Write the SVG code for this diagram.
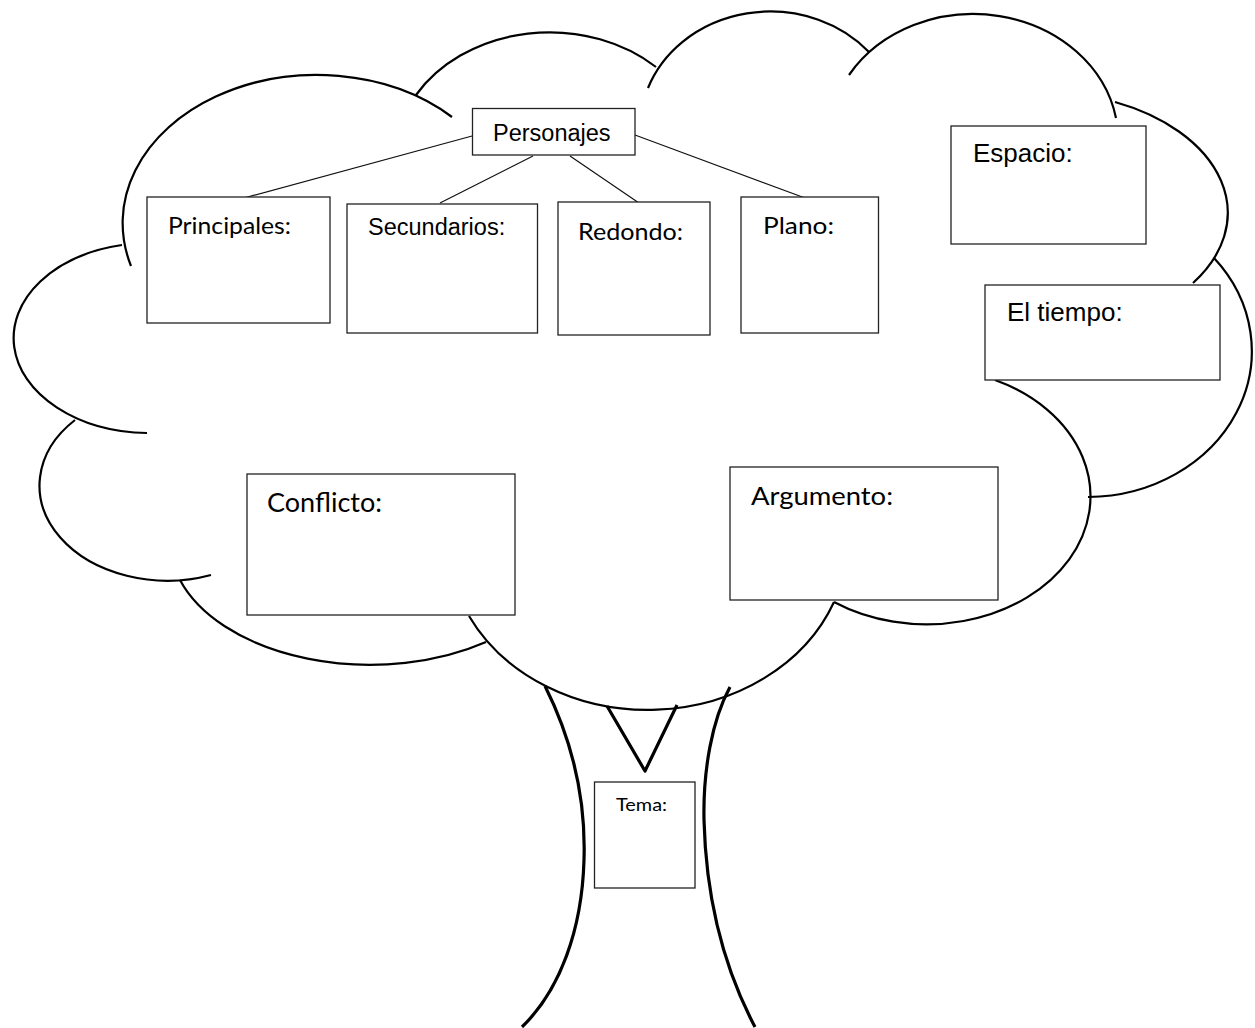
<svg xmlns="http://www.w3.org/2000/svg" width="1255" height="1028" viewBox="0 0 1255 1028">
<style>
.cl{fill:none;stroke:#000;stroke-width:2.2;stroke-linecap:butt}
.tr{fill:none;stroke:#000;stroke-width:3.2}
.bx{fill:#fff;stroke:#222;stroke-width:1.3}
.cn{stroke:#111;stroke-width:1.2;fill:none}
.ar{font-family:"Liberation Sans",Arial,sans-serif;fill:#000}
.ca{font-family:Lato,"Open Sans",sans-serif;fill:#000}
</style>
<rect width="1255" height="1028" fill="#fff"/>
<g id="cloud">
<path class="cl" d="M452,117 A194,148 0 0 0 131,266"/>
<path class="cl" d="M416,95 A155,127 0 0 1 656,67"/>
<path class="cl" d="M648,88 A130,116 0 0 1 869,52"/>
<path class="cl" d="M849,75 A145,126 0 0 1 1116,118"/>
<path class="cl" d="M1115,102 A188,121 0 0 1 1193,283"/>
<path class="cl" d="M1214,258 A165,146 0 0 1 1088,497"/>
<path class="cl" d="M995,380 A164,128 0 1 1 834,602"/>
<path class="cl" d="M834,602 A200,170 0 0 1 469,616"/>
<path class="cl" d="M180,580 A200,123 0 0 0 486,642"/>
<path class="cl" d="M75,420 A128,95 0 0 0 211,575"/>
<path class="cl" d="M122,245 A136,95 0 0 0 147,433"/>
</g>
<g id="trunk">
<path class="tr" d="M545,686 C572,740 586,800 584,860 C582,930 560,990 522,1027"/>
<path class="tr" d="M730,687 C712,720 703,770 704,820 C706,900 725,970 755,1027"/>
<path class="tr" stroke-width="3.6" stroke-linejoin="round" d="M607,706 L645,771 L677,705"/>
</g>
<g id="connectors">
<line class="cn" x1="472" y1="136" x2="244" y2="198"/>
<line class="cn" x1="533" y1="156" x2="440" y2="203"/>
<line class="cn" x1="570" y1="156" x2="639" y2="203"/>
<line class="cn" x1="635" y1="135" x2="805" y2="198"/>
</g>
<g id="personajes">
<rect class="bx" x="472.5" y="108.5" width="162.5" height="46.5"/>
<text class="ar" x="493" y="141" font-size="23.5">Personajes</text>
</g>
<g id="principales">
<rect class="bx" x="147" y="197" width="183" height="126"/>
<text class="ca" x="168" y="234" font-size="22.5" textLength="123" lengthAdjust="spacingAndGlyphs">Principales:</text>
</g>
<g id="secundarios">
<rect class="bx" x="347" y="204" width="190.5" height="129"/>
<text class="ar" x="368" y="235" font-size="23.5">Secundarios:</text>
</g>
<g id="redondo">
<rect class="bx" x="558" y="202" width="152" height="133"/>
<text class="ca" x="578" y="240" font-size="23" textLength="105" lengthAdjust="spacingAndGlyphs">Redondo:</text>
</g>
<g id="plano">
<rect class="bx" x="741" y="197" width="137.5" height="136"/>
<text class="ca" x="763" y="234" font-size="23.5" textLength="71" lengthAdjust="spacingAndGlyphs">Plano:</text>
</g>
<g id="espacio">
<rect class="bx" x="951" y="126" width="195" height="118"/>
<text class="ar" x="973" y="162" font-size="26">Espacio:</text>
</g>
<g id="tiempo">
<rect class="bx" x="985" y="285" width="235" height="95"/>
<text class="ar" x="1007" y="321" font-size="26">El tiempo:</text>
</g>
<g id="conflicto">
<rect class="bx" x="247" y="474" width="268" height="141"/>
<text class="ca" x="267" y="512" font-size="26.5" textLength="115" lengthAdjust="spacingAndGlyphs">Conflicto:</text>
</g>
<g id="argumento">
<rect class="bx" x="730" y="467" width="268" height="133"/>
<text class="ca" x="751" y="505" font-size="25.5" textLength="142" lengthAdjust="spacingAndGlyphs">Argumento:</text>
</g>
<g id="tema">
<rect class="bx" x="594.5" y="782" width="100.5" height="106"/>
<text class="ca" x="616" y="811" font-size="17" textLength="51" lengthAdjust="spacingAndGlyphs">Tema:</text>
</g>
</svg>
